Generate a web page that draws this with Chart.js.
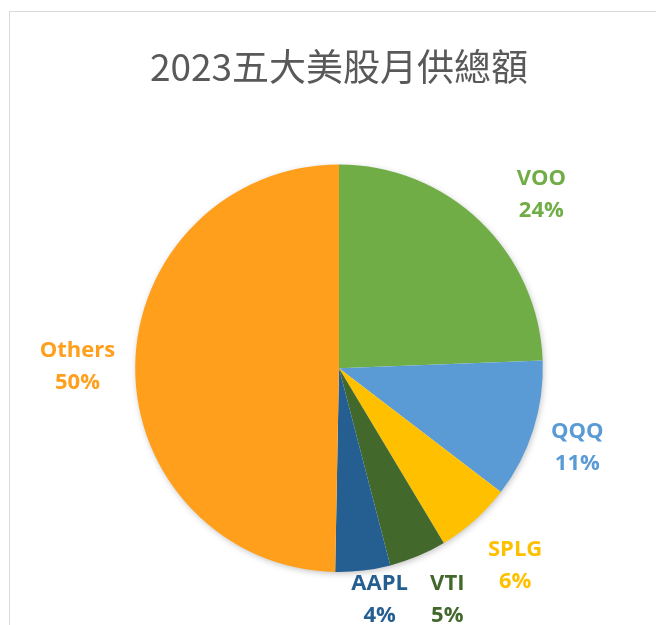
<!DOCTYPE html>
<html>
<head>
<meta charset="utf-8">
<script src="https://cdn.jsdelivr.net/npm/chart.js@4"></script>
<style>
  body { margin: 0; background: #fff; }
  #frame { position: absolute; left: 9px; top: 11px; width: 700px; height: 700px; border: 1px solid #d9d9d9; }
  #mycanvas { position: absolute; left: 0; top: 0; }
</style>
</head>
<body>
<div id="frame"></div>
<canvas id="mycanvas" width="656" height="625"></canvas>
<script>
var chartTitle = '2023五大美股月供總額';
var tickers = ['VOO', 'QQQ', 'SPLG', 'VTI', 'AAPL', 'Others'];
var shares = [24.4, 11.0, 6.0, 4.55, 4.35, 49.7];
var sliceColors = ['#70AD47', '#5B9BD5', '#FFC000', '#43682B', '#255E91', '#FF9F1C'];

// small per-label shifts, Excel "best fit" places them a bit off the radial line
var labelNudge = [[30, 4], [0, 3], [9, 11], [15, 2], [11, -16], [0, 0]];

var pieShadow = {
	id: 'pieShadow',
	beforeDatasetsDraw: function(chart) {
		var arc = chart.getDatasetMeta(0).data[0];
		if (!arc) return;
		var ctx = chart.ctx;
		ctx.save();
		ctx.shadowColor = 'rgba(0,0,0,0.28)';
		ctx.shadowBlur = 7;
		ctx.shadowOffsetX = 1;
		ctx.shadowOffsetY = 2;
		ctx.fillStyle = '#fff';
		ctx.beginPath();
		ctx.arc(arc.x, arc.y, arc.outerRadius - 1, 0, Math.PI * 2);
		ctx.fill();
		ctx.restore();
	}
};

var outsideLabels = {
	id: 'outsideLabels',
	afterDatasetsDraw: function(chart) {
		var ctx = chart.ctx;
		var meta = chart.getDatasetMeta(0);
		var total = shares.reduce(function(a, b) { return a + b; }, 0);
		ctx.save();
		ctx.font = 'bold 22px "Open Sans"';
		ctx.textAlign = 'center';
		ctx.textBaseline = 'alphabetic';
		meta.data.forEach(function(arc, i) {
			var p = arc.getProps(['x', 'y', 'startAngle', 'endAngle', 'outerRadius'], true);
			var mid = (p.startAngle + p.endAngle) / 2;
			var dx = Math.cos(mid), dy = Math.sin(mid);
			var pct = Math.round(shares[i] / total * 100) + '%';
			var w = Math.max(ctx.measureText(tickers[i]).width, ctx.measureText(pct).width);
			var r = p.outerRadius + 20;
			var cx = p.x + dx * r + dx * w / 2;
			var cy = p.y + dy * r + dy * 24;
			var x = cx + labelNudge[i][0];
			var y = cy - 8.5 + labelNudge[i][1];
			ctx.fillStyle = sliceColors[i];
			ctx.fillText(tickers[i], x, y);
			ctx.fillText(pct, x, y + 32);
		});
		ctx.restore();
	}
};

var ctx = document.getElementById('mycanvas');
var pieChart = new Chart(ctx, {
	type: 'pie',
	data: {
		labels: tickers,
		datasets: [{
			data: shares,
			backgroundColor: sliceColors,
			borderWidth: 0
		}]
	},
	options: {
		responsive: false,
		animation: false,
		layout: { padding: { left: 134, right: 112, top: 0, bottom: 53 } },
		plugins: {
			legend: { display: false },
			tooltip: { enabled: false },
			title: {
				display: true,
				text: chartTitle,
				color: '#595959',
				font: { family: '"Noto Sans CJK TC", "Noto Sans"', size: 37, weight: 'normal' },
				padding: { top: 45, bottom: 75 }
			}
		}
	},
	plugins: [pieShadow, outsideLabels]
});
</script>
</body>
</html>
